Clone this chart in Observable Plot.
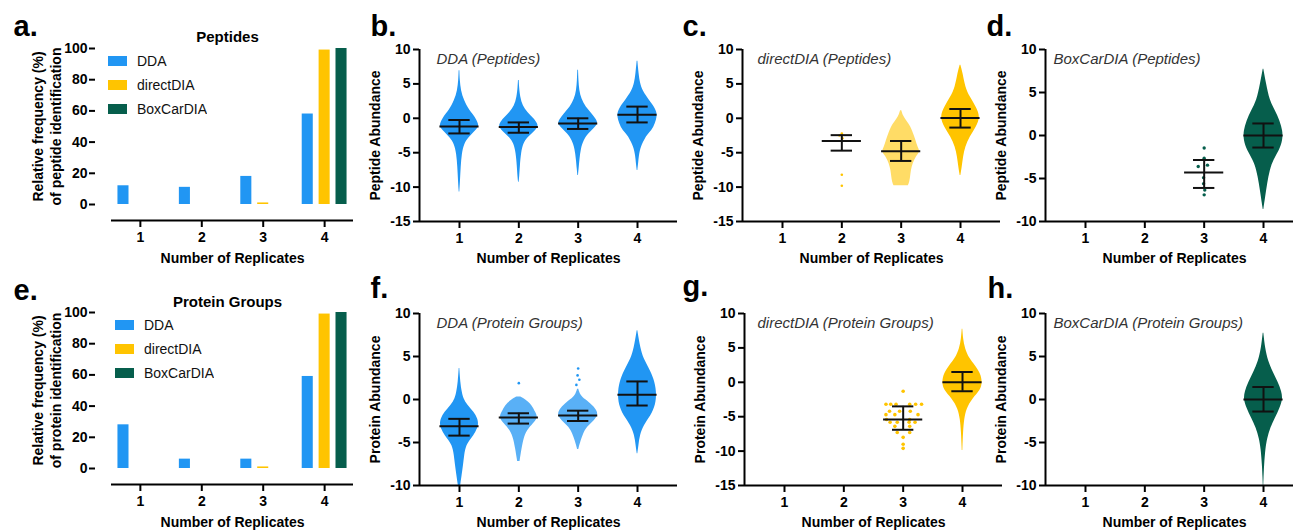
<!DOCTYPE html>
<html><head><meta charset="utf-8">
<script src="https://cdn.jsdelivr.net/npm/d3@7"></script>
<script src="https://cdn.jsdelivr.net/npm/@observablehq/plot@0.6"></script>
<style>
html,body{margin:0;padding:0;background:#fff;overflow:hidden;width:1293px;height:531px}
#root{position:relative;width:1293px;height:531px;overflow:hidden}
.panel{position:absolute}
.panel svg{max-width:none !important}
.leg-swatch{line-height:24px;padding-bottom:0 !important;}
.leg-swatch svg{margin-right:10px !important;}
</style></head>
<body><div id="root"></div>
<script>
const FONT = '"Liberation Sans", Arial, Helvetica, sans-serif';
const reps = [1, 2, 3, 4];
const methods = ["DDA", "directDIA", "BoxCarDIA"];
const methodColors = ["#2196F3", "#FFC400", "#065E4C"];

// Panel a / e: relative frequency (%) of identification per number of replicates
const pepFreqDDA = [12, 11, 18, 58];
const pepFreqDirect = [0, 0, 1, 99];
const pepFreqBox = [0, 0, 0, 100];
const protFreqDDA = [28, 6, 6, 59];
const protFreqDirect = [0, 0, 1, 99];
const protFreqBox = [0, 0, 0, 100];

const xTicks = [1, 2, 3, 4];
const freqTicks = [0, 20, 40, 60, 80, 100];
const abundTicks15 = [10, 5, 0, -5, -10, -15];
const abundTicks10 = [10, 5, 0, -5, -10];

// Distribution outlines: [abundance, half-width in replicate units]
const bViolin1 = [[6.9,0.006],[5.5,0.012],[4,0.03],[2.6,0.08],[1.1,0.17],[0.15,0.27],[-0.8,0.32],[-1.3,0.33],[-2,0.25],[-2.8,0.16],[-3.7,0.085],[-5.2,0.045],[-7.1,0.028],[-9.1,0.017],[-10.7,0.005]];
const bViolin2 = [[5.5,0.006],[4.5,0.012],[3,0.03],[1.8,0.07],[0.8,0.15],[0,0.25],[-0.8,0.32],[-1.3,0.33],[-2,0.26],[-2.8,0.15],[-3.7,0.08],[-5,0.045],[-7,0.025],[-8.5,0.015],[-9.3,0.005]];
const bViolin3 = [[7,0.006],[5.5,0.012],[4,0.025],[2.8,0.06],[1.6,0.13],[0.6,0.24],[-0.2,0.31],[-0.8,0.34],[-1.5,0.27],[-2.3,0.17],[-3.2,0.1],[-4.5,0.05],[-6,0.03],[-7.5,0.015],[-8.3,0.005]];
const bViolin4 = [[8.3,0.006],[6.5,0.025],[5,0.05],[4,0.09],[2.6,0.2],[1.6,0.29],[0.6,0.34],[-0.3,0.32],[-1.3,0.28],[-2.2,0.2],[-2.8,0.14],[-4.2,0.06],[-5.5,0.03],[-6.5,0.02],[-7.6,0.005]];
const cViolin3 = [[1.1,0.01],[0.3,0.04],[-0.3,0.085],[-1.3,0.17],[-2.3,0.21],[-3.2,0.25],[-4.2,0.28],[-4.9,0.33],[-5.6,0.25],[-6.6,0.2],[-7.6,0.17],[-8.5,0.16],[-9.5,0.14],[-9.8,0.12]];
const cViolin4 = [[7.7,0.006],[6.5,0.045],[4.5,0.085],[3.1,0.16],[1.6,0.27],[0.15,0.34],[-1.3,0.27],[-2.7,0.16],[-4.2,0.085],[-5.6,0.05],[-7.1,0.03],[-8.3,0.006]];
const dViolin4 = [[7.7,0.005],[6,0.05],[4,0.11],[2.9,0.2],[1.7,0.28],[0.5,0.33],[-0.6,0.33],[-1.8,0.27],[-2.9,0.17],[-4.1,0.11],[-5.6,0.07],[-7.2,0.035],[-8.6,0.005]];
const fViolin1 = [[3.6,0.005],[2,0.02],[0.85,0.045],[0.1,0.07],[-0.7,0.14],[-1.5,0.25],[-2.25,0.31],[-3,0.33],[-3.8,0.28],[-4.6,0.2],[-5.3,0.12],[-6.5,0.085],[-7.7,0.068],[-8.8,0.045],[-10,0.02]];
const fViolin2 = [[0.3,0.03],[0,0.11],[-0.7,0.23],[-1.5,0.28],[-2.1,0.33],[-2.8,0.25],[-3.6,0.14],[-4.6,0.085],[-5.7,0.055],[-7.2,0.02]];
const fViolin3 = [[1.2,0.01],[0.5,0.04],[0,0.12],[-0.7,0.25],[-1.3,0.32],[-1.9,0.34],[-2.5,0.27],[-3.2,0.15],[-4,0.09],[-4.8,0.05],[-5.8,0.01]];
const fViolin4 = [[8,0.005],[5.9,0.055],[4.7,0.11],[3.6,0.2],[2.4,0.28],[0.85,0.33],[-0.7,0.31],[-1.9,0.23],[-3,0.11],[-4.2,0.045],[-5.3,0.025],[-6.3,0.005]];
const gViolin4 = [[7.7,0.005],[6.3,0.017],[4.9,0.045],[3.4,0.12],[2.4,0.22],[1.2,0.31],[0,0.34],[-1.2,0.31],[-2.4,0.17],[-3.9,0.07],[-5.4,0.035],[-7.2,0.017],[-9.9,0.005]];
const hViolin4 = [[7.7,0.005],[5.9,0.034],[4.4,0.085],[3.2,0.16],[2,0.25],[0.9,0.31],[0,0.33],[-1,0.28],[-2.2,0.2],[-3.3,0.12],[-4.6,0.068],[-5.7,0.04],[-7.7,0.017],[-9.2,0.008],[-10,0.004]];

// Individual points: [replicates, abundance, swarm offset]
const cDots = [[2,-2.2,0],[2,-2.5,-0.04],[2,-2.9,0.01],[2,-8.2,0],[2,-9.8,0]];
const dDots = [[3,-1.45,0],[3,-2.65,0],[3,-3.45,0.056],[3,-3.6,-0.1],[3,-4.9,-0.01],[3,-5.6,-0.01],[3,-6.35,0.01],[3,-6.9,0]];
const fDots = [[2,1.9,0],[3,3.6,0],[3,2.8,-0.01],[3,2.3,0.02],[3,1.7,-0.03]];
const gDots = [[3,-1.3,0],[3,-3.2,-0.29],[3,-3.2,-0.21],[3,-3.2,-0.12],[3,-3.2,0.11],[3,-3.2,0.21],[3,-3.2,0.31],
  [3,-4.2,-0.23],[3,-4.2,-0.06],[3,-4.2,0.12],[3,-4.7,-0.29],[3,-4.7,-0.14],[3,-4.7,0.25],
  [3,-5.4,-0.28],[3,-5.4,0.11],[3,-5.8,-0.22],[3,-5.8,-0.1],[3,-5.8,0.1],[3,-5.8,0.2],
  [3,-6.4,-0.14],[3,-6.4,0.11],[3,-7.3,-0.1],[3,-7.3,0.11],[3,-8,0],[3,-9,0],[3,-9.6,0]];

// Mean and SD: [replicates, mean, mean-SD, mean+SD]
const bStats = [[1,-1.2,-2.2,-0.25],[2,-1.25,-2.1,-0.6],[3,-0.75,-1.55,0],[4,0.5,-0.6,1.7]];
const cStats = [[2,-3.3,-4.7,-2.45],[3,-4.8,-6.2,-3.3],[4,0.05,-1.35,1.35]];
const dStats = [[3,-4.3,-6.1,-2.85],[4,0,-1.4,1.4]];
const fStats = [[1,-3.1,-4.2,-2.25],[2,-2.1,-2.8,-1.6],[3,-1.85,-2.5,-1.3],[4,0.55,-0.7,2.1]];
const gStats = [[3,-5.4,-6.9,-3.5],[4,0,-1.3,1.5]];
const hStats = [[4,0,-1.4,1.45]];

const root = document.getElementById("root");
function place(el, left, top, width) {
  const d = document.createElement("div");
  d.className = "panel"; d.style.left = left + "px"; d.style.top = top + "px";
  if (width) d.style.width = width + "px";
  d.appendChild(el); root.appendChild(d);
}
const fmt = d => String(d);
const axisStyle = {fontWeight: "bold", fontSize: 14, strokeWidth: 2, label: null, tickFormat: fmt};
const plotStyle = {fontFamily: FONT, background: "transparent", overflow: "visible", color: "#000", maxWidth: "none"};

function barPanel(cfg) {
  const series = [cfg.dda, cfg.direct, cfg.box];
  const rows = methods.flatMap((m, i) => series[i].map((v, j) => ({m, rep: reps[j], v})));
  const off = {DDA: -0.275, directDIA: 0, BoxCarDIA: 0.275};
  const hw = 0.09;
  const svg = Plot.plot({
    width: 360, height: 265, marginLeft: 111, marginRight: 7, marginTop: 48, marginBottom: 61,
    style: plotStyle,
    x: {domain: [0.53, 4.47]},
    y: {domain: [0, 100]},
    color: {domain: methods, range: methodColors},
    marks: [
      Plot.rectY(rows, {x1: d => d.rep + off[d.m] - hw, x2: d => d.rep + off[d.m] + hw, y1: 0, y2: "v", fill: "m"}),
      Plot.axisY({...axisStyle, ticks: freqTicks, dx: -16, tickSize: 6, tickPadding: 2}),
      Plot.ruleY([0], {dy: 16, strokeWidth: 2}),
      Plot.axisX({...axisStyle, ticks: xTicks, dy: 16, tickSize: 7, tickPadding: 5}),
      Plot.text([cfg.letter], {text: d => d, frameAnchor: "top-left", dx: -98, dy: -22, fontSize: 29, fontWeight: "bold", textAnchor: "start", lineAnchor: "middle"}),
      Plot.text([cfg.title], {text: d => d, frameAnchor: "top", dx: -5, dy: cfg.titleDy, fontSize: 15, fontWeight: "bold", lineAnchor: "middle"}),
      Plot.text([cfg.ylabel], {text: d => d, frameAnchor: "left", dx: -65, rotate: -90, fontSize: 14, fontWeight: "bold", lineHeight: 1.3, textAnchor: "middle", lineAnchor: "middle"}),
      Plot.text(["Number of Replicates"], {text: d => d, frameAnchor: "bottom", dy: 54, fontSize: 14, fontWeight: "bold", lineAnchor: "middle"})
    ]
  });
  place(svg, cfg.left, cfg.top, 360);
  const leg = Plot.legend({
    color: {domain: methods, range: methodColors}, legend: "swatches", columns: 1,
    swatchWidth: 19, swatchHeight: 10, className: "leg",
    style: {fontFamily: FONT, fontSize: "14px", color: "#111", lineHeight: "24px", margin: "0"}
  });
  place(leg, cfg.legLeft, cfg.top + 48.5, 130);
}

function violinPanel(cfg) {
  const xDom = [0.326, 4.674];
  const yDom = cfg.yDomain;
  const marks = [];
  for (const [rep, prof, op] of cfg.violins) {
    marks.push(Plot.areaX(prof, {y: d => d[0], x1: d => rep - d[1], x2: d => rep + d[1], fill: cfg.color, fillOpacity: op, curve: "basis"}));
  }
  if (cfg.dots) marks.push(Plot.dot(cfg.dots, {x: d => d[0] + d[2], y: d => d[1], r: cfg.dotR, fill: cfg.color}));
  const st = cfg.stats;
  const bar = {stroke: "#111", strokeWidth: 2};
  marks.push(
    Plot.ruleX(st, {x: d => d[0], y1: d => d[2], y2: d => d[3], ...bar}),
    Plot.ruleY(st, {y: d => d[1], x1: d => d[0] - 0.33, x2: d => d[0] + 0.33, ...bar}),
    Plot.ruleY(st, {y: d => d[2], x1: d => d[0] - 0.18, x2: d => d[0] + 0.18, ...bar}),
    Plot.ruleY(st, {y: d => d[3], x1: d => d[0] - 0.18, x2: d => d[0] + 0.18, ...bar}),
    Plot.ruleX([xDom[0]], {strokeWidth: 2}),
    Plot.ruleY([yDom[0]], {strokeWidth: 2}),
    Plot.axisY({...axisStyle, ticks: cfg.yTicks, tickSize: 6, tickPadding: 3}),
    Plot.axisX({...axisStyle, ticks: xTicks, tickSize: 7, tickPadding: 5}),
    Plot.text([cfg.letter], {text: d => d, frameAnchor: "top-left", dx: cfg.letterDx, dy: cfg.letterDy, fontSize: 29, fontWeight: "bold", textAnchor: "start", lineAnchor: "middle"}),
    Plot.text([cfg.subtitle], {text: d => d, frameAnchor: "top-left", dx: cfg.subDx, dy: 10, fontSize: 15, fontStyle: "italic", fill: "#333", textAnchor: "start", lineAnchor: "middle"}),
    Plot.text([cfg.ylabel], {text: d => d, frameAnchor: "left", dx: -44, rotate: -90, fontSize: 14, fontWeight: "bold", textAnchor: "middle", lineAnchor: "middle"}),
    Plot.text(["Number of Replicates"], {text: d => d, frameAnchor: "bottom", dy: 37, fontSize: 14, fontWeight: "bold", lineAnchor: "middle"})
  );
  const svg = Plot.plot({
    width: 330, height: 265, marginLeft: 60, marginRight: 12, marginTop: 49, marginBottom: 44,
    style: plotStyle,
    x: {domain: xDom}, y: {domain: yDom},
    marks
  });
  place(svg, cfg.frameLeft - 60, cfg.top, 330);
}

const BLUE = methodColors[0], GOLD = methodColors[1], GREEN = methodColors[2];

barPanel({left: 0, top: 0, legLeft: 108, letter: "a.", title: "Peptides", titleDy: -11,
  ylabel: "Relative frequency (%)\nof peptide identification", dda: pepFreqDDA, direct: pepFreqDirect, box: pepFreqBox});
barPanel({left: 0, top: 264, legLeft: 115, letter: "e.", title: "Protein Groups", titleDy: -10,
  ylabel: "Relative frequency (%)\nof protein identification", dda: protFreqDDA, direct: protFreqDirect, box: protFreqBox});

violinPanel({frameLeft: 419, top: 0, letter: "b.", letterDx: -49, letterDy: -23, subtitle: "DDA (Peptides)", subDx: 17,
  ylabel: "Peptide Abundance", yDomain: [-15, 10], yTicks: abundTicks15, color: BLUE,
  violins: [[1, bViolin1, 1], [2, bViolin2, 1], [3, bViolin3, 1], [4, bViolin4, 1]], stats: bStats});
violinPanel({frameLeft: 742, top: 0, letter: "c.", letterDx: -60, letterDy: -23, subtitle: "directDIA (Peptides)", subDx: 15,
  ylabel: "Peptide Abundance", yDomain: [-15, 10], yTicks: abundTicks15, color: GOLD,
  violins: [[3, cViolin3, 0.6], [4, cViolin4, 1]], dots: cDots, dotR: 1.3, stats: cStats});
violinPanel({frameLeft: 1045, top: 0, letter: "d.", letterDx: -59, letterDy: -23, subtitle: "BoxCarDIA (Peptides)", subDx: 8,
  ylabel: "Peptide Abundance", yDomain: [-10, 10], yTicks: abundTicks10, color: GREEN,
  violins: [[4, dViolin4, 1]], dots: dDots, dotR: 1.7, stats: dStats});
violinPanel({frameLeft: 419, top: 264, letter: "f.", letterDx: -49, letterDy: -25, subtitle: "DDA (Protein Groups)", subDx: 17,
  ylabel: "Protein Abundance", yDomain: [-10, 10], yTicks: abundTicks10, color: BLUE,
  violins: [[1, fViolin1, 1], [2, fViolin2, 0.75], [3, fViolin3, 0.75], [4, fViolin4, 1]], dots: fDots, dotR: 1.3, stats: fStats});
violinPanel({frameLeft: 744, top: 264, letter: "g.", letterDx: -62, letterDy: -27, subtitle: "directDIA (Protein Groups)", subDx: 13,
  ylabel: "Protein Abundance", yDomain: [-15, 10], yTicks: abundTicks15, color: GOLD,
  violins: [[4, gViolin4, 1]], dots: gDots, dotR: 1.8, stats: gStats});
violinPanel({frameLeft: 1045, top: 264, letter: "h.", letterDx: -58, letterDy: -25, subtitle: "BoxCarDIA (Protein Groups)", subDx: 8,
  ylabel: "Protein Abundance", yDomain: [-10, 10], yTicks: abundTicks10, color: GREEN,
  violins: [[4, hViolin4, 1]], stats: hStats});
</script>
</body></html>
